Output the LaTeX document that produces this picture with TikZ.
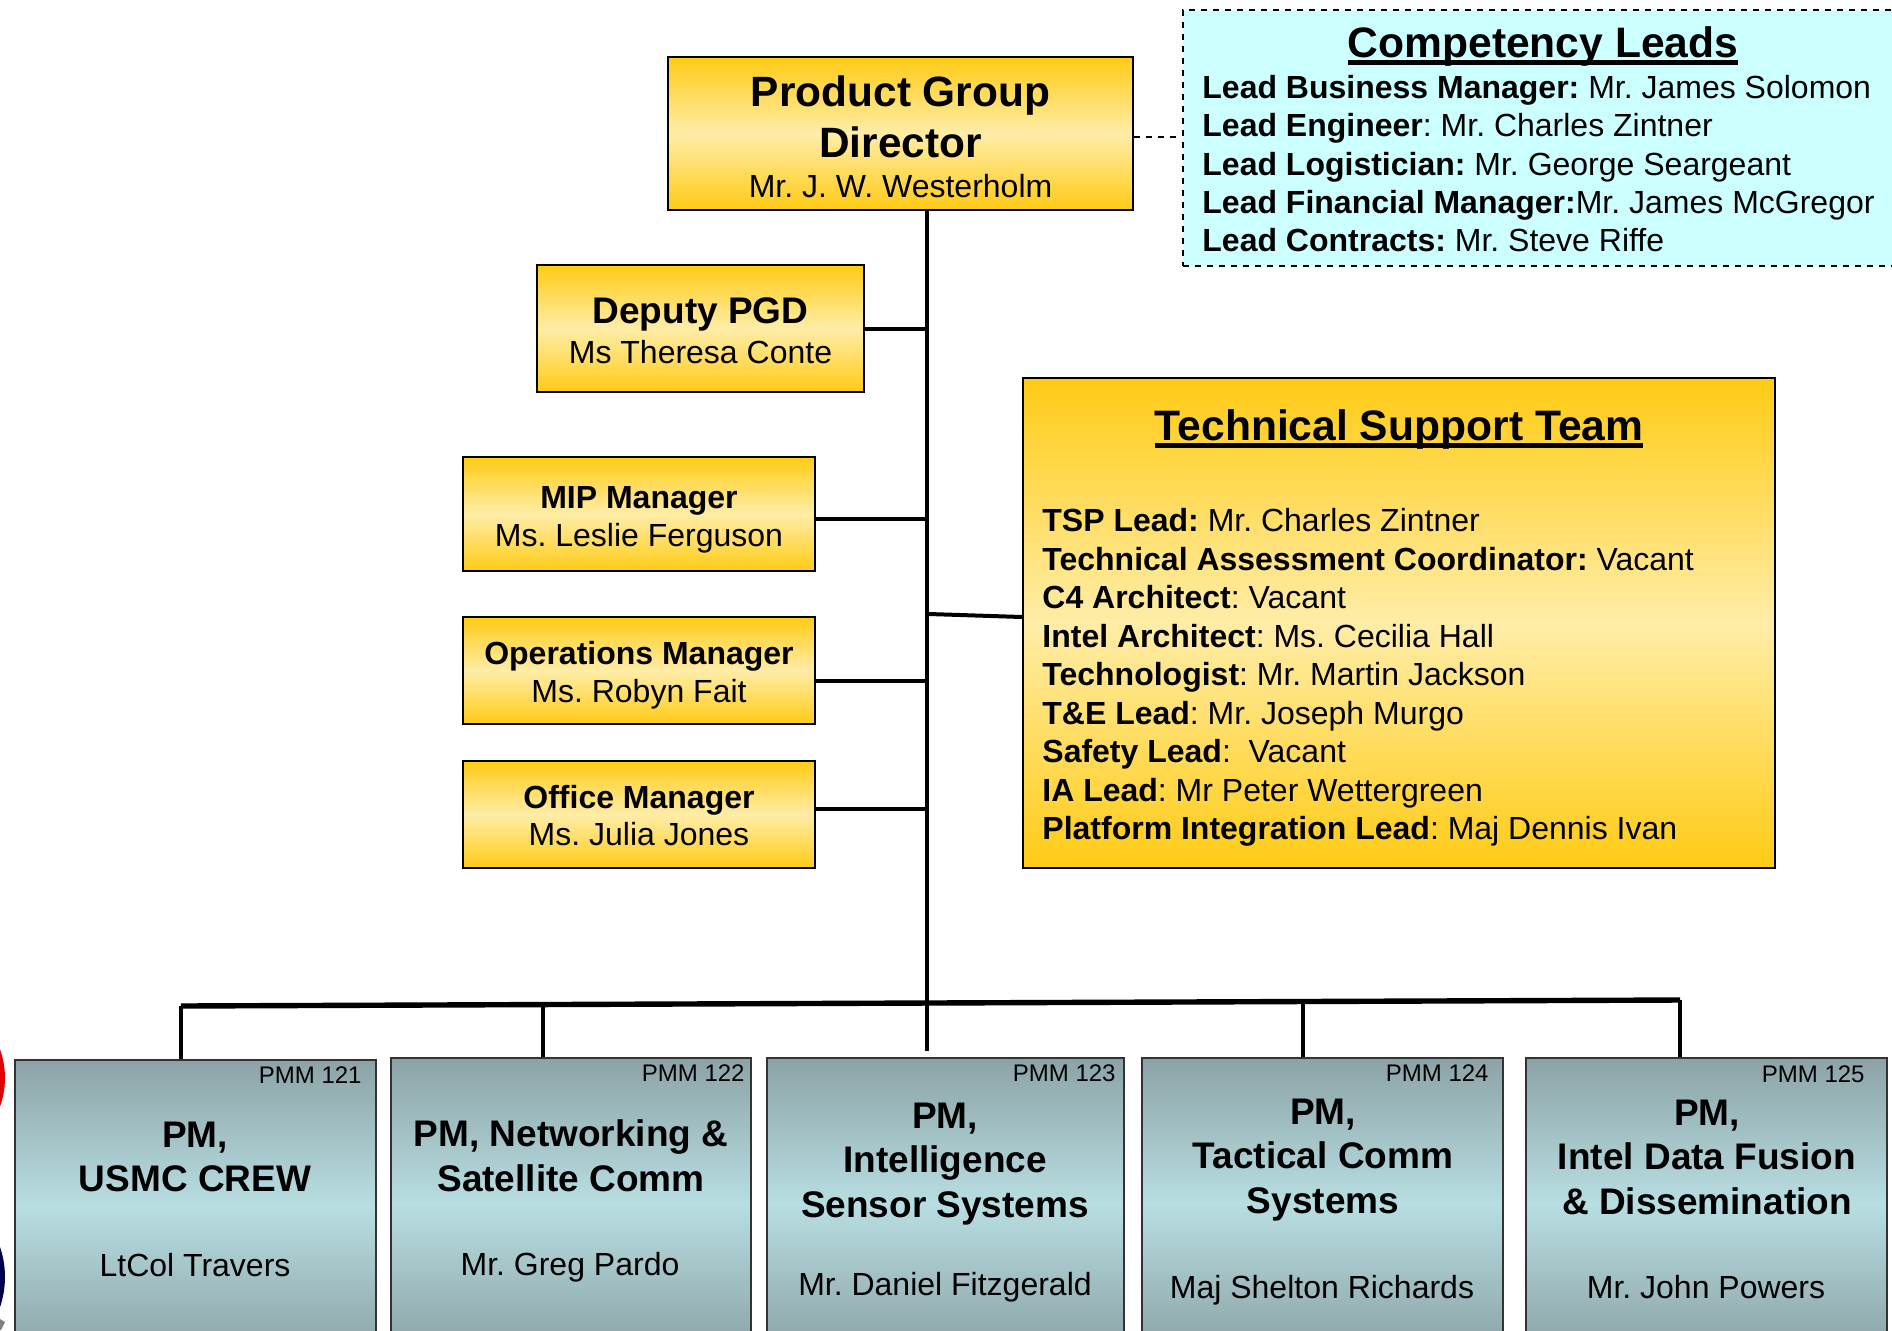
\documentclass[tikz,border=0pt]{standalone}
\usepackage{fontspec}
\setmainfont{Liberation Sans}
\usetikzlibrary{positioning}
\frenchspacing
\definecolor{goldedge}{HTML}{FFCB14}
\definecolor{goldmid}{HTML}{FFEDA8}
\definecolor{tealedge}{HTML}{8CA3A6}
\definecolor{tealmid}{HTML}{B8DEE2}
\definecolor{leadfill}{HTML}{CCFFFF}
\newcommand{\fsz}[2]{\fontsize{#1}{#2}\selectfont}
\newcommand{\heavyul}[1]{\setbox0\hbox{#1}\dp0=0pt\vtop{\box0\kern 1.7pt\hrule height 2.2pt}}
\newcommand{\bighead}{\fsz{21.2}{25}\bfseries}
\newcommand{\subhead}{\fsz{18.5}{22}\bfseries}
\newcommand{\smallhead}{\fsz{16}{19.3}\bfseries}
\newcommand{\namefont}{\fsz{16}{19.3}}
\tikzset{
	goldbox/.style={draw=black, line width=1pt, top color=goldedge, bottom color=goldedge, middle color=goldmid, align=center, inner sep=0pt},
	pmbox/.style={draw=black!80, line width=1pt, top color=tealedge, bottom color=tealedge, middle color=tealmid, inner sep=0pt, minimum height=146pt, anchor=north west},
	pmtag/.style={font=\fsz{12}{14}, anchor=base east, inner sep=0pt},
	pmtitle/.style={font=\fsz{18.5}{22.25}\bfseries, align=center, inner sep=0pt},
	pmname/.style={font=\fsz{16}{19}, anchor=base, inner sep=0pt},
	leadlist/.style={font=\fsz{16}{19.25}, align=left, anchor=north west, inner sep=0pt},
	spine/.style={line width=2pt, black},
	drop/.style={line width=1.7pt, black},
	bus/.style={line width=2.7pt, black}
}
\begin{document}
\begin{tikzpicture}[x=0.5pt,y=-0.5pt]
	\useasboundingbox (0,0) rectangle (1892,1330);
	\clip (0,0) rectangle (1892,1330);
	% Logos cut by the left edge
	\fill [red!88!black] (-79,1078) circle [radius=84];
	\fill [blue!30!black] (-87.5,1277) circle [radius=92.5];
	\fill [gray] (0,1319) -- (5,1322) -- (1,1330) -- (0,1330) -- cycle;
	% Competency box
	\node [draw=black, dashed, line width=0.8pt, fill=leadfill, minimum width=380pt, minimum height=128pt, anchor=north west, inner sep=0pt] (leads) at (1182,9) {};
	\node [font=\fsz{21.3}{24}\bfseries, anchor=base, inner sep=0pt] (leadshead) at (1543,57) {\heavyul{Competency Leads}};
	\node [leadlist, font=\fsz{16}{19.15}] (leadstext) at (1202,75) {\textbf{Lead Business Manager:} Mr. James Solomon\\
		\textbf{Lead Engineer}: Mr. Charles Zintner\\
		\textbf{Lead Logistician:} Mr. George Seargeant\\
		\textbf{Lead Financial Manager:}Mr. James McGregor\\
		\textbf{Lead Contracts:} Mr. Steve Riffe};
	% Top of the chart
	\node [goldbox, minimum width=232.5pt, minimum height=76.5pt] (director) at (900.5,133.5) {\bighead\rule{0pt}{18.7pt}Product Group\\[4.8pt]\bighead Director\\[7.8pt]\namefont Mr. J. W. Westerholm};
	\node [goldbox, minimum width=163.5pt, minimum height=63.5pt] (deputy) at (700.5,328.5) {\subhead\rule{0pt}{15.6pt}Deputy PGD\\[3.6pt]\namefont Ms Theresa Conte};
	\node [goldbox, minimum width=176pt, minimum height=57pt] (mip) at (639,514) {\smallhead\rule{0pt}{17.1pt}MIP Manager\\[3pt]\namefont Ms. Leslie Ferguson};
	\node [goldbox, minimum width=176pt, minimum height=53.5pt] (ops) at (639,670.5) {\smallhead\rule{0pt}{15.9pt}Operations Manager\\[3pt]\namefont Ms. Robyn Fait};
	\node [goldbox, minimum width=176pt, minimum height=53.5pt] (office) at (639,814.5) {\smallhead\rule{0pt}{13pt}Office Manager\\[2.4pt]\namefont Ms. Julia Jones};
	% Support team
	\node [goldbox, minimum width=376pt, minimum height=245pt] (support) at (1399,623) {};
	\node [font=\fsz{21.3}{24}\bfseries, anchor=base, inner sep=0pt] (supporthead) at (1399,440) {\heavyul{Technical Support Team}};
	\node [leadlist] (supporttext) at (1042,508) {\textbf{TSP Lead:} Mr. Charles Zintner\\
		\textbf{Technical Assessment Coordinator:} Vacant\\
		\textbf{C4 Architect}: Vacant\\
		\textbf{Intel Architect}: Ms. Cecilia Hall\\
		\textbf{Technologist}: Mr. Martin Jackson\\
		\textbf{T\&E Lead}: Mr. Joseph Murgo\\
		\textbf{Safety Lead}:\ \ Vacant\\
		\textbf{IA Lead}: Mr Peter Wettergreen\\
		\textbf{Platform Integration Lead}: Maj Dennis Ivan};
	% PM boxes
	\node [pmbox, minimum width=180.5pt] (pma) at (14,1059) {};
	\node [pmbox, minimum width=180pt] (pmb) at (390,1057) {};
	\node [pmbox, minimum width=178.5pt] (pmc) at (766,1057) {};
	\node [pmbox, minimum width=180.5pt] (pmd) at (1141,1057) {};
	\node [pmbox, minimum width=180.5pt] (pme) at (1525,1057) {};
	\node [pmtag] (taga) at (362,1083) {PMM 121};
	\node [pmtag] (tagb) at (745,1081) {PMM 122};
	\node [pmtag] (tagc) at (1116,1081) {PMM 123};
	\node [pmtag] (tagd) at (1489,1081) {PMM 124};
	\node [pmtag] (tage) at (1865,1082) {PMM 125};
	\node [pmtitle] (titlea) at (195,1157) {PM,\\USMC CREW};
	\node [pmtitle] (titleb) at (571,1156) {PM, Networking \&\\Satellite Comm};
	\node [pmtitle] (titlec) at (945,1164) {PM,\\Intelligence\\Sensor Systems};
	\node [pmtitle] (titled) at (1323,1160) {PM,\\Tactical Comm\\Systems};
	\node [pmtitle] (titlee) at (1707,1157) {PM,\\Intel Data Fusion\\\& Dissemination};
	\node [pmname] (namea) at (195,1276) {LtCol Travers};
	\node [pmname] (nameb) at (570,1275) {Mr. Greg Pardo};
	\node [pmname] (namec) at (945,1295) {Mr. Daniel Fitzgerald};
	\node [pmname] (named) at (1322,1298) {Maj Shelton Richards};
	\node [pmname] (namee) at (1706,1298) {Mr. John Powers};
	% Connectors
	\coordinate (spinetop) at (927,210);
	\coordinate (spineend) at (927,1051);
	\coordinate (spinesup) at (929,614);
	\coordinate (busl) at (181,1006);
	\coordinate (busr) at (1680,1000);
	\coordinate (dropb) at (543,1005);
	\coordinate (dropd) at (1303,1002);
	\draw [spine] (spinetop) -- (spineend);
	\draw [spine] (deputy.east) -- (deputy.east -| spinetop);
	\draw [spine] (mip.east |- 0,519) -- (spinetop |- 0,519);
	\draw [spine] (ops.east |- 0,681) -- (spinetop |- 0,681);
	\draw [spine] (office.east |- 0,809) -- (spinetop |- 0,809);
	\draw [spine] (spinesup) -- (support.west |- 0,617);
	\draw [bus] (busl) -- (busr);
	\draw [drop] (busl) -- (busl |- pma.north);
	\draw [drop] (dropb) -- (dropb |- pmb.north);
	\draw [drop] (dropd) -- (dropd |- pmd.north);
	\draw [drop] (busr) -- (busr |- pme.north);
	\draw [black, dashed, line width=0.6pt] (director.east |- 0,137) -- (leads.west |- 0,137);
\end{tikzpicture}
\end{document}
